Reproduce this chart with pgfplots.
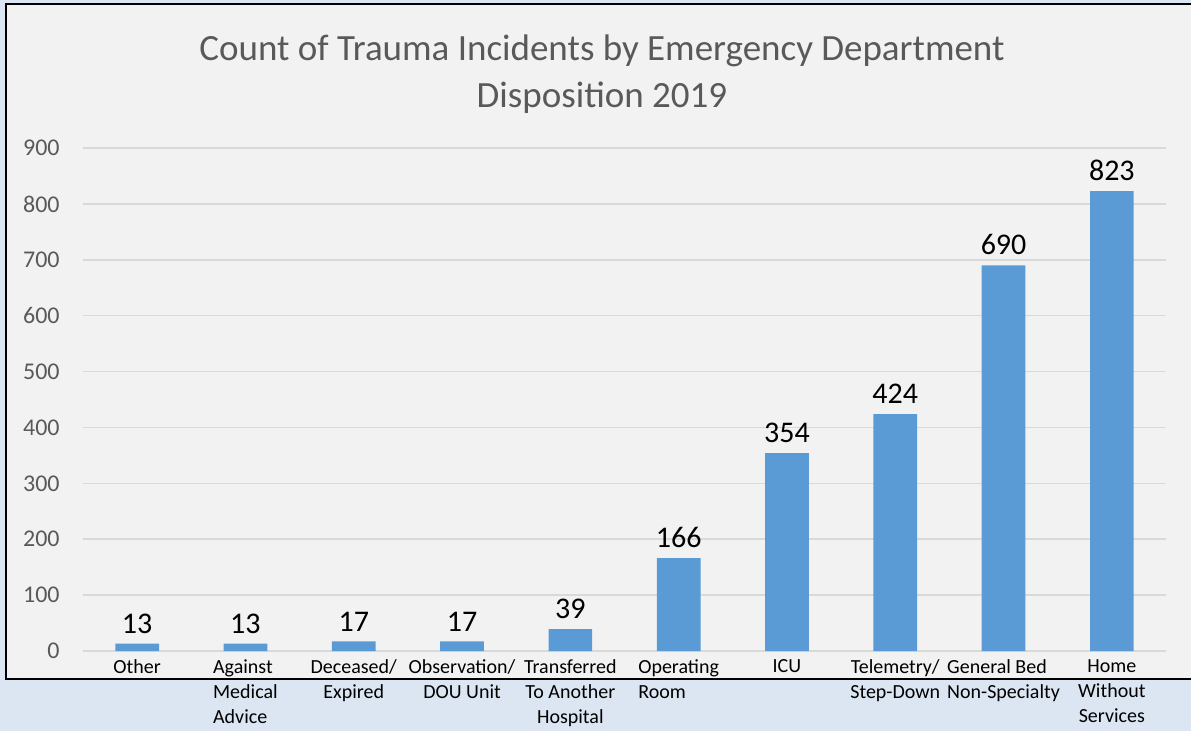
\documentclass[border=0pt]{standalone}
\usepackage{fontspec}
\setmainfont{Carlito}
\usepackage{pgfplots}
\pgfplotsset{compat=1.18}
\definecolor{outerbg}{HTML}{DCE6F2}
\definecolor{innerbg}{HTML}{F2F2F2}
\definecolor{barblue}{HTML}{5B9BD5}
\definecolor{txtgray}{HTML}{595959}
\definecolor{gridgray}{HTML}{D9D9D9}
% left-aligned stacked tick labels
\newcommand\lstack[1]{\vtop{\baselineskip=12.5bp\lineskiplimit=0pt\lineskip=0pt #1}}

\begin{document}
\begin{tikzpicture}
\useasboundingbox (0,0) rectangle (595.5bp,365.5bp);
\clip (0,0) rectangle (595.5bp,365.5bp);
\fill[outerbg] (0,0) rectangle (595.5bp,365.5bp);
\fill[innerbg] (3bp,26bp) rectangle (600bp,363.5bp);
\draw[black, line width=1.25bp] (600bp,363.5bp) -- (3bp,363.5bp) -- (3bp,26bp) -- (600bp,26bp);

\node[anchor=base, txtgray, font=\fontsize{18.5bp}{22bp}\selectfont] at (301bp,335bp)
  {Count of Trauma Incidents by Emergency Department};
\node[anchor=base, txtgray, font=\fontsize{18.5bp}{22bp}\selectfont] at (301bp,311.5bp)
  {Disposition 2019};

\begin{axis}[
    at={(41.5bp,40bp)}, anchor=south west,
    scale only axis, width=541.5bp, height=251.5bp,
    xmin=-0.5, xmax=9.5, ymin=0, ymax=900,
    ybar, bar width=21.85bp,
    axis line style={draw=none},
    major tick length=0pt,
    ytick={0,100,...,900},
    ymajorgrids, grid style={gridgray, line width=0.75bp},
    xtick={0,...,9},
    xticklabels={Other,
      {\lstack{\hbox{Against}\hbox{Medical}\hbox{Advice}}},
      Deceased/\\Expired, Observation/\\DOU Unit,
      Transferred\\To Another\\Hospital,
      {\lstack{\hbox{Operating}\hbox{Room}}},
      ICU, Telemetry/\\Step-Down,
      {\lstack{\hbox{General Bed}\hbox{Non-Specialty}}},
      Home\\Without\\Services},
    xticklabel style={anchor=north, align=center, inner sep=0pt, yshift=-4bp,
      font=\fontsize{10bp}{12.5bp}\selectfont, text=black},
    yticklabel style={anchor=east, inner sep=0pt, xshift=-11.5bp,
      font=\fontsize{12bp}{14bp}\selectfont, text=txtgray},
    /pgf/number format/assume math mode=true,
    nodes near coords,
    every node near coord/.append style={anchor=south, inner sep=0pt, yshift=5bp,
      font=\fontsize{15bp}{18bp}\selectfont, text=black},
    clip=false,
]
\addplot[fill=barblue, draw=none] coordinates {
  (0,13) (1,13) (2,17) (3,17) (4,39) (5,166) (6,354) (7,424) (8,690) (9,823)};
\end{axis}
\end{tikzpicture}
\end{document}
